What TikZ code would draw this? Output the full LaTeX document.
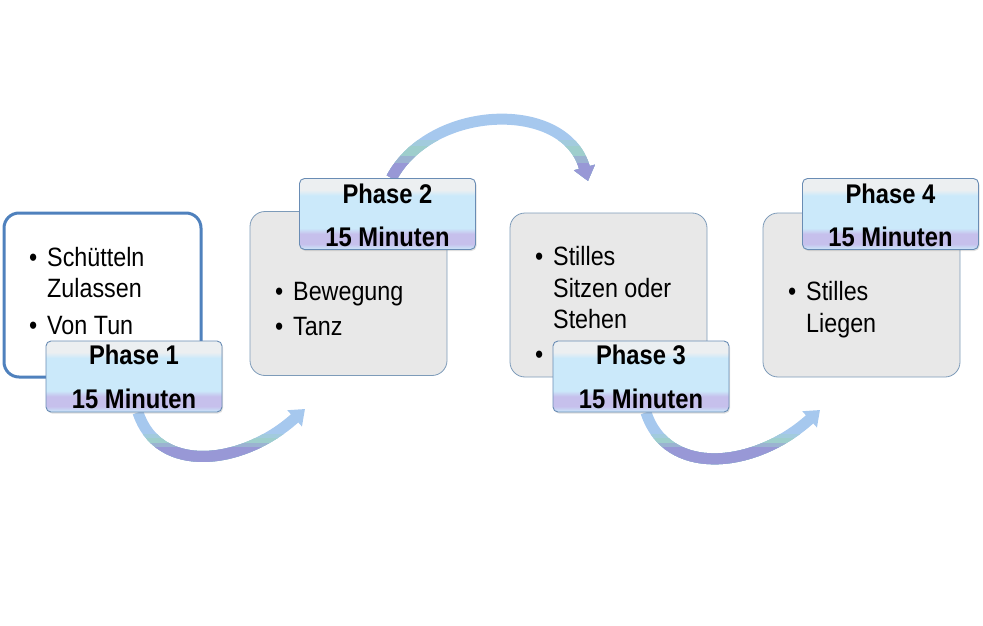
\documentclass[tikz,border=0pt]{standalone}
\usepackage{fontspec}
\setmainfont{Liberation Sans}[FakeStretch=0.88]
\usetikzlibrary{arrows.meta,shadows}
\definecolor{boxone}{RGB}{79,129,189}
\definecolor{boxgray}{RGB}{232,232,232}
\definecolor{boxline}{RGB}{125,155,185}
\definecolor{labline}{RGB}{105,140,180}
\definecolor{labblue}{RGB}{203,233,250}
\definecolor{lablav}{RGB}{198,192,236}
\definecolor{labtop}{RGB}{236,239,241}
\definecolor{arcblue}{RGB}{166,200,238}
\definecolor{arcteal}{RGB}{158,206,204}
\definecolor{arcpurple}{RGB}{152,152,214}
\colorlet{arcbt}{arcblue!50!arcteal}
\colorlet{arctp}{arcteal!50!arcpurple}
\pgfdeclareverticalshading{labshade}{100bp}{color(0bp)=(labblue); color(25bp)=(labblue); color(29bp)=(lablav); color(36bp)=(lablav); color(40bp)=(labblue); color(63bp)=(labblue); color(67bp)=(labtop); color(100bp)=(labtop)}
\pgfdeclarelayer{bg}
\pgfsetlayers{bg,main}
\tikzset{
  firstbox/.style={draw=boxone, line width=3pt, fill=white, rounded corners=15pt, minimum width=197pt, minimum height=164pt, inner sep=0pt},
  graybox/.style={draw=boxline, line width=0.8pt, fill=boxgray, rounded corners=15pt, minimum width=197pt, minimum height=164pt, inner sep=0pt},
  phasebox/.style={draw=labline, line width=0.9pt, shading=labshade, rounded corners=5pt, minimum width=176pt, minimum height=71pt, inner sep=0pt, drop shadow={opacity=0.25, shadow xshift=1pt, shadow yshift=-1.5pt}},
  labtxt/.style={font=\fontsize{27}{30}\selectfont\bfseries, anchor=base, inner sep=0pt},
  bodytxt/.style={font=\fontsize{26.5}{30}\selectfont, anchor=base west, inner sep=0pt},
  arcline/.style={draw=#1, line width=11pt, -{Triangle[width=21pt,length=14pt]}}
}
\begin{document}
\begin{tikzpicture}[x=1pt,y=1pt]
\useasboundingbox (0,0) rectangle (983,-626);
% content boxes
\node[firstbox] (b1) at (102.5,-295) {};
\node[graybox] (b2) at (348.5,-293.5) {};
\node[graybox] (b3) at (608.5,-295) {};
\node[graybox] (b4) at (861.5,-295) {};
% box texts
\node[bodytxt] (b1bul1) at (29,-266) {\textbullet};
\node[bodytxt] (b1t1) at (47,-266) {Schütteln};
\node[bodytxt] (b1t2) at (47,-297) {Zulassen};
\node[bodytxt] (b1bul2) at (29,-334) {\textbullet};
\node[bodytxt] (b1t3) at (47,-334) {Von Tun};
\node[bodytxt] (b2bul1) at (275,-300) {\textbullet};
\node[bodytxt] (b2t1) at (293,-300) {Bewegung};
\node[bodytxt] (b2bul2) at (275,-335) {\textbullet};
\node[bodytxt] (b2t2) at (293,-335) {Tanz};
\node[bodytxt] (b3bul1) at (535,-265) {\textbullet};
\node[bodytxt] (b3t1) at (553,-265) {Stilles};
\node[bodytxt] (b3t2) at (553,-297) {Sitzen oder};
\node[bodytxt] (b3t3) at (553,-328) {Stehen};
\node[bodytxt] (b3bul2) at (535,-363) {\textbullet};
\node[bodytxt] (b4bul1) at (788,-300) {\textbullet};
\node[bodytxt] (b4t1) at (806,-300) {Stilles};
\node[bodytxt] (b4t2) at (806,-332) {Liegen};
% phase labels
\node[phasebox] (ph1) at (134,-376.5) {};
\node[phasebox] (ph2) at (387.5,-214) {};
\node[phasebox] (ph3) at (641,-376.5) {};
\node[phasebox] (ph4) at (890.5,-214) {};
\node[labtxt] (ph1a) at (134,-364) {Phase 1};
\node[labtxt] (ph1b) at (134,-408) {15 Minuten};
\node[labtxt] (ph2a) at (387.5,-203) {Phase 2};
\node[labtxt] (ph2b) at (387.5,-246) {15 Minuten};
\node[labtxt] (ph3a) at (641,-364) {Phase 3};
\node[labtxt] (ph3b) at (641,-408) {15 Minuten};
\node[labtxt] (ph4a) at (890.5,-203) {Phase 4};
\node[labtxt] (ph4b) at (890.5,-246) {15 Minuten};
% arrow ends
\coordinate (e1) at (305,-409);
\coordinate (e2) at (588,-181);
\coordinate (e3) at (820,-410);
\begin{pgfonlayer}{bg}
% arrow 1
\draw[arcline=arcblue] ([xshift=4pt]ph1.south) to[out=-72,in=-138,out looseness=1.0,in looseness=1.3] (e1);
\begin{scope}
\clip (0,-434) rectangle (983,-626);
\draw[arcline=arcbt] ([xshift=4pt]ph1.south) to[out=-72,in=-138,out looseness=1.0,in looseness=1.3] (e1);
\end{scope}
\begin{scope}
\clip (0,-438) rectangle (983,-626);
\draw[arcline=arcteal] ([xshift=4pt]ph1.south) to[out=-72,in=-138,out looseness=1.0,in looseness=1.3] (e1);
\end{scope}
\begin{scope}
\clip (0,-443) rectangle (983,-626);
\draw[arcline=arctp] ([xshift=4pt]ph1.south) to[out=-72,in=-138,out looseness=1.0,in looseness=1.3] (e1);
\end{scope}
\begin{scope}
\clip (0,-447) rectangle (983,-626);
\draw[arcline=arcpurple] ([xshift=4pt]ph1.south) to[out=-72,in=-138,out looseness=1.0,in looseness=1.3] (e1);
\end{scope}
% arrow 2
\draw[arcline=arcblue] ([xshift=4pt]ph2.north) to[out=62,in=105,looseness=1.1] (e2);
\begin{scope}
\clip (0,-140) rectangle (983,-626);
\draw[arcline=arcbt] ([xshift=4pt]ph2.north) to[out=62,in=105,looseness=1.1] (e2);
\end{scope}
\begin{scope}
\clip (0,-146) rectangle (983,-626);
\draw[arcline=arcteal] ([xshift=4pt]ph2.north) to[out=62,in=105,looseness=1.1] (e2);
\end{scope}
\begin{scope}
\clip (0,-156) rectangle (983,-626);
\draw[arcline=arctp] ([xshift=4pt]ph2.north) to[out=62,in=105,looseness=1.1] (e2);
\end{scope}
\begin{scope}
\clip (0,-163) rectangle (983,-626);
\draw[arcline=arcpurple] ([xshift=4pt]ph2.north) to[out=62,in=105,looseness=1.1] (e2);
\end{scope}
% arrow 3
\draw[arcline=arcblue] ([xshift=5pt]ph3.south) to[out=-72,in=-138,out looseness=1.0,in looseness=1.3] (e3);
\begin{scope}
\clip (0,-434) rectangle (983,-626);
\draw[arcline=arcbt] ([xshift=5pt]ph3.south) to[out=-72,in=-138,out looseness=1.0,in looseness=1.3] (e3);
\end{scope}
\begin{scope}
\clip (0,-438) rectangle (983,-626);
\draw[arcline=arcteal] ([xshift=5pt]ph3.south) to[out=-72,in=-138,out looseness=1.0,in looseness=1.3] (e3);
\end{scope}
\begin{scope}
\clip (0,-443) rectangle (983,-626);
\draw[arcline=arctp] ([xshift=5pt]ph3.south) to[out=-72,in=-138,out looseness=1.0,in looseness=1.3] (e3);
\end{scope}
\begin{scope}
\clip (0,-447) rectangle (983,-626);
\draw[arcline=arcpurple] ([xshift=5pt]ph3.south) to[out=-72,in=-138,out looseness=1.0,in looseness=1.3] (e3);
\end{scope}
\end{pgfonlayer}
\end{tikzpicture}
\end{document}
